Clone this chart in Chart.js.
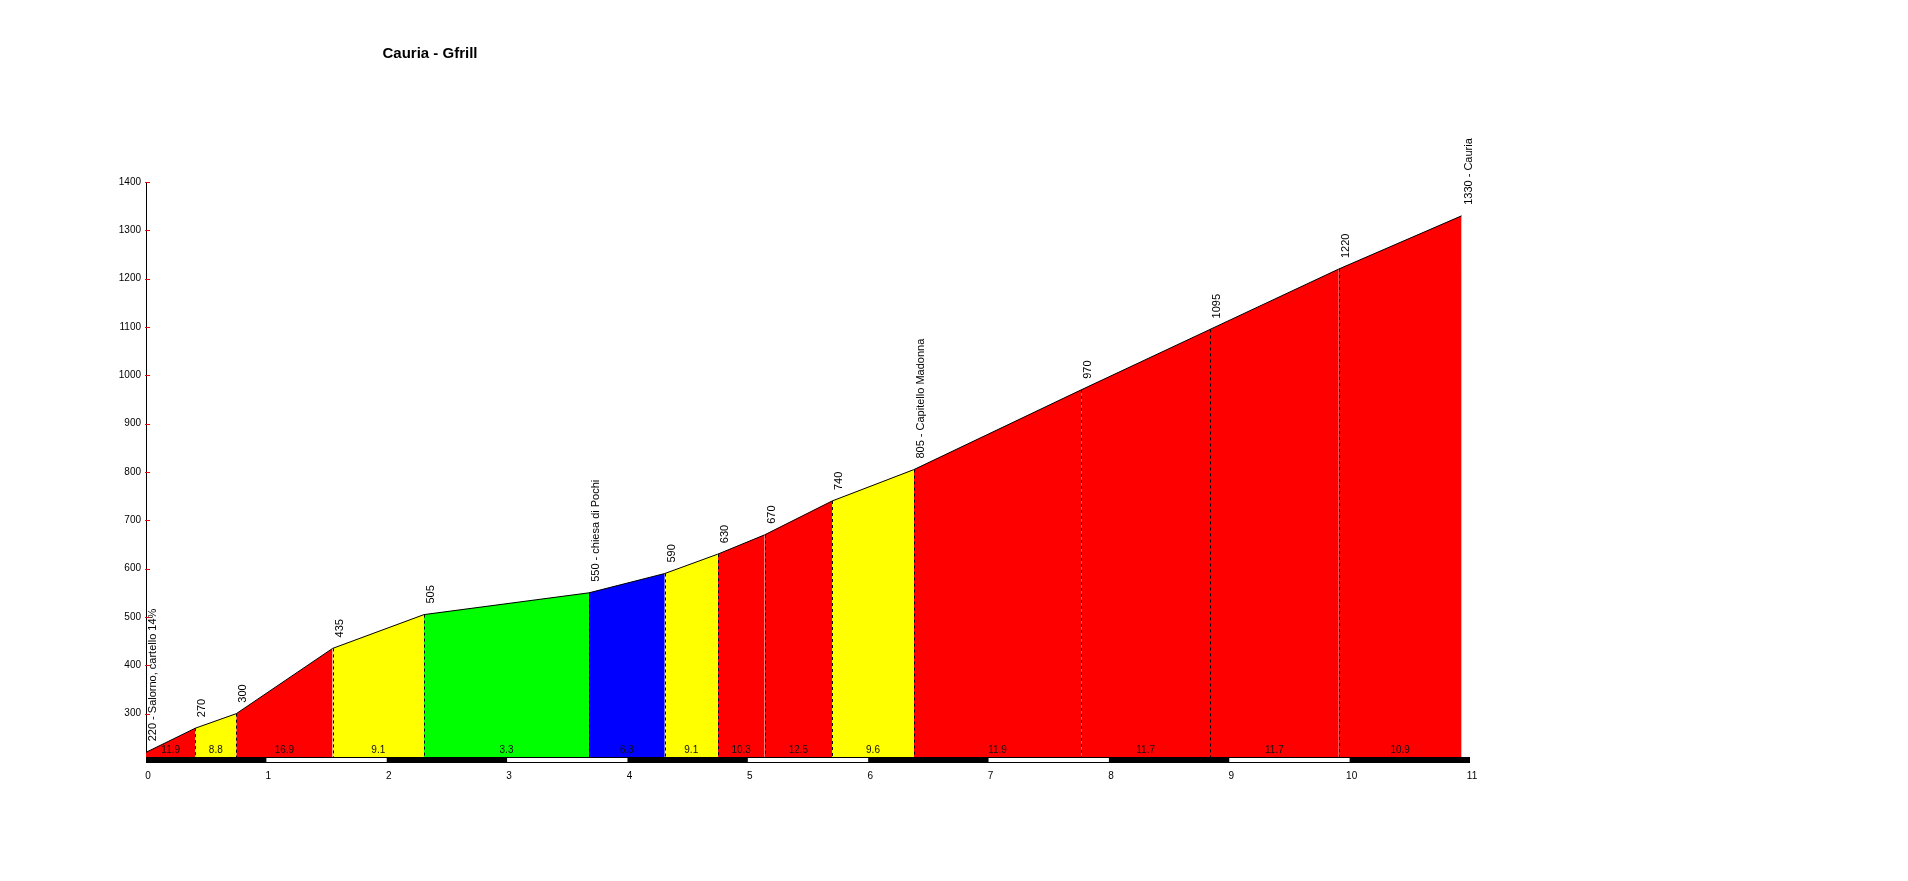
<!DOCTYPE html>
<html>
<head>
<meta charset="utf-8">
<title>Cauria - Gfrill</title>
<script src="https://cdn.jsdelivr.net/npm/chart.js@4"></script>
<style>
    html, body { margin: 0; padding: 0; background: #fff; }
    canvas { display: block; }
</style>
</head>
<body>
<canvas id="profileChart" width="1908" height="881"></canvas>
<script>
// ============================================
// DATA
// ============================================

const chartTitle = 'Cauria - Gfrill';

// km from start
const distances = [0, 0.41, 0.75, 1.55, 2.31, 3.68, 4.31, 4.75, 5.14, 5.70, 6.38, 7.77, 8.84, 9.91, 10.93];
// metres
const elevations = [220, 270, 300, 435, 505, 550, 590, 630, 670, 740, 805, 970, 1095, 1220, 1330];
const pointLabels = [
    '220 - Salorno, cartello 14%', '270', '300', '435', '505',
    '550 - chiesa di Pochi', '590', '630', '670', '740',
    '805 - Capitello Madonna', '970', '1095', '1220', '1330 - Cauria'
];

// one entry per segment (between two points)
const gradients = ['11.9', '8.8', '16.9', '9.1', '3.3', '6.3', '9.1', '10.3', '12.5', '9.6', '11.9', '11.7', '11.7', '10.9'];
const segmentColors = [
    '#ff0000', '#ffff00', '#ff0000', '#ffff00', '#00ff00', '#0000ff', '#ffff00',
    '#ff0000', '#ff0000', '#ffff00', '#ff0000', '#ff0000', '#ff0000', '#ff0000'
];

const xMin = 0, xMax = 11;
const yMin = 200, yMax = 1400, yStep = 100;

const FONT = '"Liberation Sans", Arial, sans-serif';

// ============================================
// DATASETS
// ============================================

const datasets = gradients.map((g, i) => ({
    data: [
        { x: distances[i], y: elevations[i] },
        { x: distances[i + 1], y: elevations[i + 1] }
    ],
    borderColor: '#000',
    borderWidth: 1,
    backgroundColor: segmentColors[i],
    fill: 'start',
    pointRadius: 0,
    tension: 0
}));

// ============================================
// DECORATIONS
// ============================================

const profileDecor = {
    id: 'profileDecor',
    afterDatasetsDraw(chart) {
        const { ctx, chartArea, scales: { x, y } } = chart;
        ctx.save();

        // dashed separators between segments
        ctx.strokeStyle = '#000';
        ctx.lineWidth = 1;
        ctx.setLineDash([3, 3]);
        for (let i = 1; i < distances.length - 1; i++) {
            const px = Math.round(x.getPixelForValue(distances[i])) + 0.5;
            ctx.beginPath();
            ctx.moveTo(px, y.getPixelForValue(elevations[i]));
            ctx.lineTo(px, chartArea.bottom);
            ctx.stroke();
        }
        ctx.setLineDash([]);

        // km bar, alternating black / white
        const barTop = chartArea.bottom - 5;
        const left = x.getPixelForValue(xMin);
        const right = x.getPixelForValue(xMax);
        ctx.fillStyle = '#000';
        ctx.fillRect(left, barTop, right - left, 6);
        ctx.fillStyle = '#fff';
        for (let k = xMin + 1; k < xMax; k += 2) {
            const a = x.getPixelForValue(k);
            const b = x.getPixelForValue(k + 1);
            ctx.fillRect(a, barTop + 1, b - a, 4);
        }

        // gradient labels
        ctx.fillStyle = '#111';
        ctx.font = '10px ' + FONT;
        ctx.textAlign = 'center';
        ctx.textBaseline = 'middle';
        gradients.forEach((g, i) => {
            const mid = (x.getPixelForValue(distances[i]) + x.getPixelForValue(distances[i + 1])) / 2;
            ctx.fillText(g, mid, chartArea.bottom - 12);
        });

        // elevation labels, rotated
        ctx.fillStyle = '#000';
        ctx.font = '11px ' + FONT;
        ctx.textAlign = 'left';
        pointLabels.forEach((label, i) => {
            const px = x.getPixelForValue(distances[i]);
            const py = y.getPixelForValue(elevations[i]);
            ctx.save();
            ctx.translate(px + 7, py - 11);
            ctx.rotate(-Math.PI / 2);
            ctx.fillText(label, 0, 0);
            ctx.restore();
        });

        ctx.restore();
    },
    afterDraw(chart) {
        const { ctx, chartArea, scales: { y } } = chart;
        ctx.save();

        // small red ticks on the elevation axis
        ctx.strokeStyle = '#ff0000';
        ctx.lineWidth = 1;
        y.ticks.forEach(t => {
            if (t.value === yMin) return;
            const py = Math.round(y.getPixelForValue(t.value)) + 0.5;
            ctx.beginPath();
            ctx.moveTo(chartArea.left - 1, py);
            ctx.lineTo(chartArea.left + 4, py);
            ctx.stroke();
        });

        // title
        ctx.fillStyle = '#000';
        ctx.font = 'bold 15px ' + FONT;
        ctx.textAlign = 'center';
        ctx.textBaseline = 'middle';
        ctx.fillText(chartTitle, 430, 54);

        ctx.restore();
    }
};

// ============================================
// CHART
// ============================================

new Chart(document.getElementById('profileChart').getContext('2d'), {
    type: 'line',
    data: { datasets: datasets },
    options: {
        responsive: false,
        devicePixelRatio: 1,
        animation: false,
        layout: {
            padding: { top: 182, right: 438, left: 0, bottom: 0 }
        },
        plugins: {
            legend: { display: false },
            tooltip: { enabled: false },
            title: { display: false }
        },
        scales: {
            x: {
                type: 'linear',
                min: xMin,
                max: xMax,
                grid: { display: false, drawTicks: false },
                border: { display: false },
                ticks: {
                    stepSize: 1,
                    padding: 8,
                    labelOffset: 2,
                    color: '#000',
                    font: { family: FONT, size: 10 }
                },
                afterFit: (scale) => { scale.height = 119; }
            },
            y: {
                min: yMin,
                max: yMax,
                grid: { display: false, drawTicks: false },
                border: { display: true, color: '#000', width: 1 },
                ticks: {
                    stepSize: yStep,
                    padding: 5,
                    color: '#000',
                    font: { family: FONT, size: 10 },
                    callback: (v) => v === yMin ? '' : v
                },
                afterFit: (scale) => { scale.width = 146; }
            }
        }
    },
    plugins: [profileDecor]
});
</script>
</body>
</html>
